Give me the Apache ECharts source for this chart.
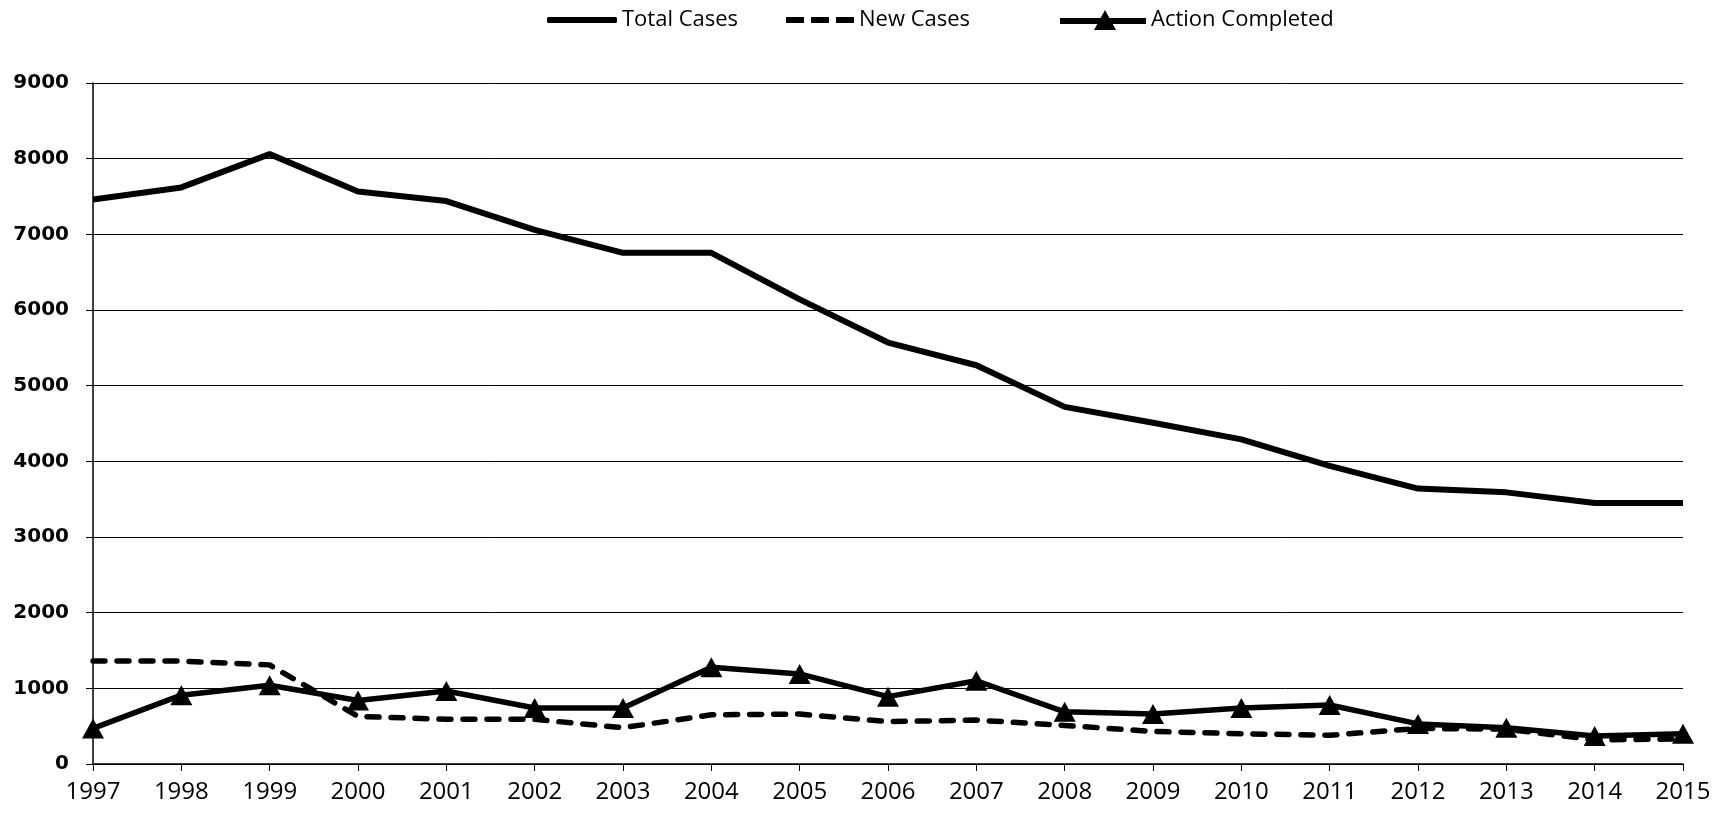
<!DOCTYPE html>
<html>
<head>
<meta charset="utf-8">
<script src="https://cdn.jsdelivr.net/npm/echarts@6/dist/echarts.min.js"></script>
<style>
html,body{margin:0;padding:0;background:#fff;}
#chart{width:1728px;height:816px;}
</style>
</head>
<body>
<div id="chart"></div>
<script>
var years = ['1997','1998','1999','2000','2001','2002','2003','2004','2005','2006','2007','2008','2009','2010','2011','2012','2013','2014','2015'];
var totalCases = [7460, 7620, 8060, 7565, 7440, 7060, 6755, 6755, 6140, 5570, 5270, 4720, 4510, 4290, 3940, 3640, 3590, 3450, 3450];
var newCases = [1360, 1360, 1310, 630, 590, 590, 480, 650, 660, 560, 580, 510, 430, 400, 380, 470, 460, 320, 330];
var actionCompleted = [470, 910, 1040, 840, 965, 740, 740, 1280, 1190, 890, 1100, 690, 660, 740, 780, 530, 480, 370, 400];
var yTicks = [0, 1000, 2000, 3000, 4000, 5000, 6000, 7000, 8000, 9000];

var chart = echarts.init(document.getElementById('chart'));
var legendText = {fontFamily: 'Open Sans, sans-serif', fontSize: 22, color: '#000', lineHeight: 24};
var option = {
  animation: false,
  backgroundColor: '#fff',
  legend: [
    {data: ['Total Cases'], left: 547, top: 8, icon: 'roundRect', itemWidth: 70, itemHeight: 6, itemTextGap: 6, textStyle: legendText, padding: 0},
    {data: ['New Cases'], left: 786, top: 8, icon: 'path://M0,0h18v6h-18z M25,0h18v6h-18z M50,0h18v6h-18z', itemWidth: 68, itemHeight: 6, itemTextGap: 6, textStyle: legendText, padding: 0},
    {data: ['Action Completed'], left: 1060, top: 8, icon: 'path://M0,8h86v6h-86z M34,20L45,0L56,20z', itemWidth: 86, itemHeight: 20, itemTextGap: 4, textStyle: legendText, padding: 0}
  ],
  grid: {left: 93, right: 45, top: 83, bottom: 52, containLabel: false},
  xAxis: {
    type: 'category',
    data: years,
    boundaryGap: false,
    axisLine: {lineStyle: {color: '#000', width: 1.5}},
    axisTick: {show: true, length: 7, lineStyle: {color: '#000', width: 1}},
    axisLabel: {fontFamily: 'Liberation Sans Narrow, Open Sans, sans-serif', fontSize: 24, color: '#000', margin: 16}
  },
  yAxis: {
    type: 'value',
    min: 0,
    max: 9000,
    interval: 1000,
    axisLine: {show: true, lineStyle: {color: '#000', width: 1.5}},
    axisTick: {show: true, length: 7, lineStyle: {color: '#000', width: 1}},
    splitLine: {show: true, lineStyle: {color: '#000', width: 1}},
    axisLabel: {
      fontFamily: 'DejaVu Sans, sans-serif', fontSize: 20, fontWeight: 'bold', color: '#000', margin: 24,
      formatter: function (v) { return yTicks.indexOf(v) >= 0 ? String(v) : ''; }
    }
  },
  series: [
    {
      name: 'Total Cases', type: 'line', data: totalCases,
      symbol: 'none', lineStyle: {color: '#000', width: 6}, itemStyle: {color: '#000'}
    },
    {
      name: 'New Cases', type: 'line', data: newCases,
      symbol: 'none', lineStyle: {color: '#000', width: 5.5, type: [12, 12], cap: 'round'}, itemStyle: {color: '#000'}
    },
    {
      name: 'Action Completed', type: 'line', data: actionCompleted,
      symbol: 'triangle', symbolSize: [22, 20], showAllSymbol: true,
      lineStyle: {color: '#000', width: 5.5}, itemStyle: {color: '#000'}
    }
  ]
};
chart.setOption(option);
</script>
</body>
</html>
